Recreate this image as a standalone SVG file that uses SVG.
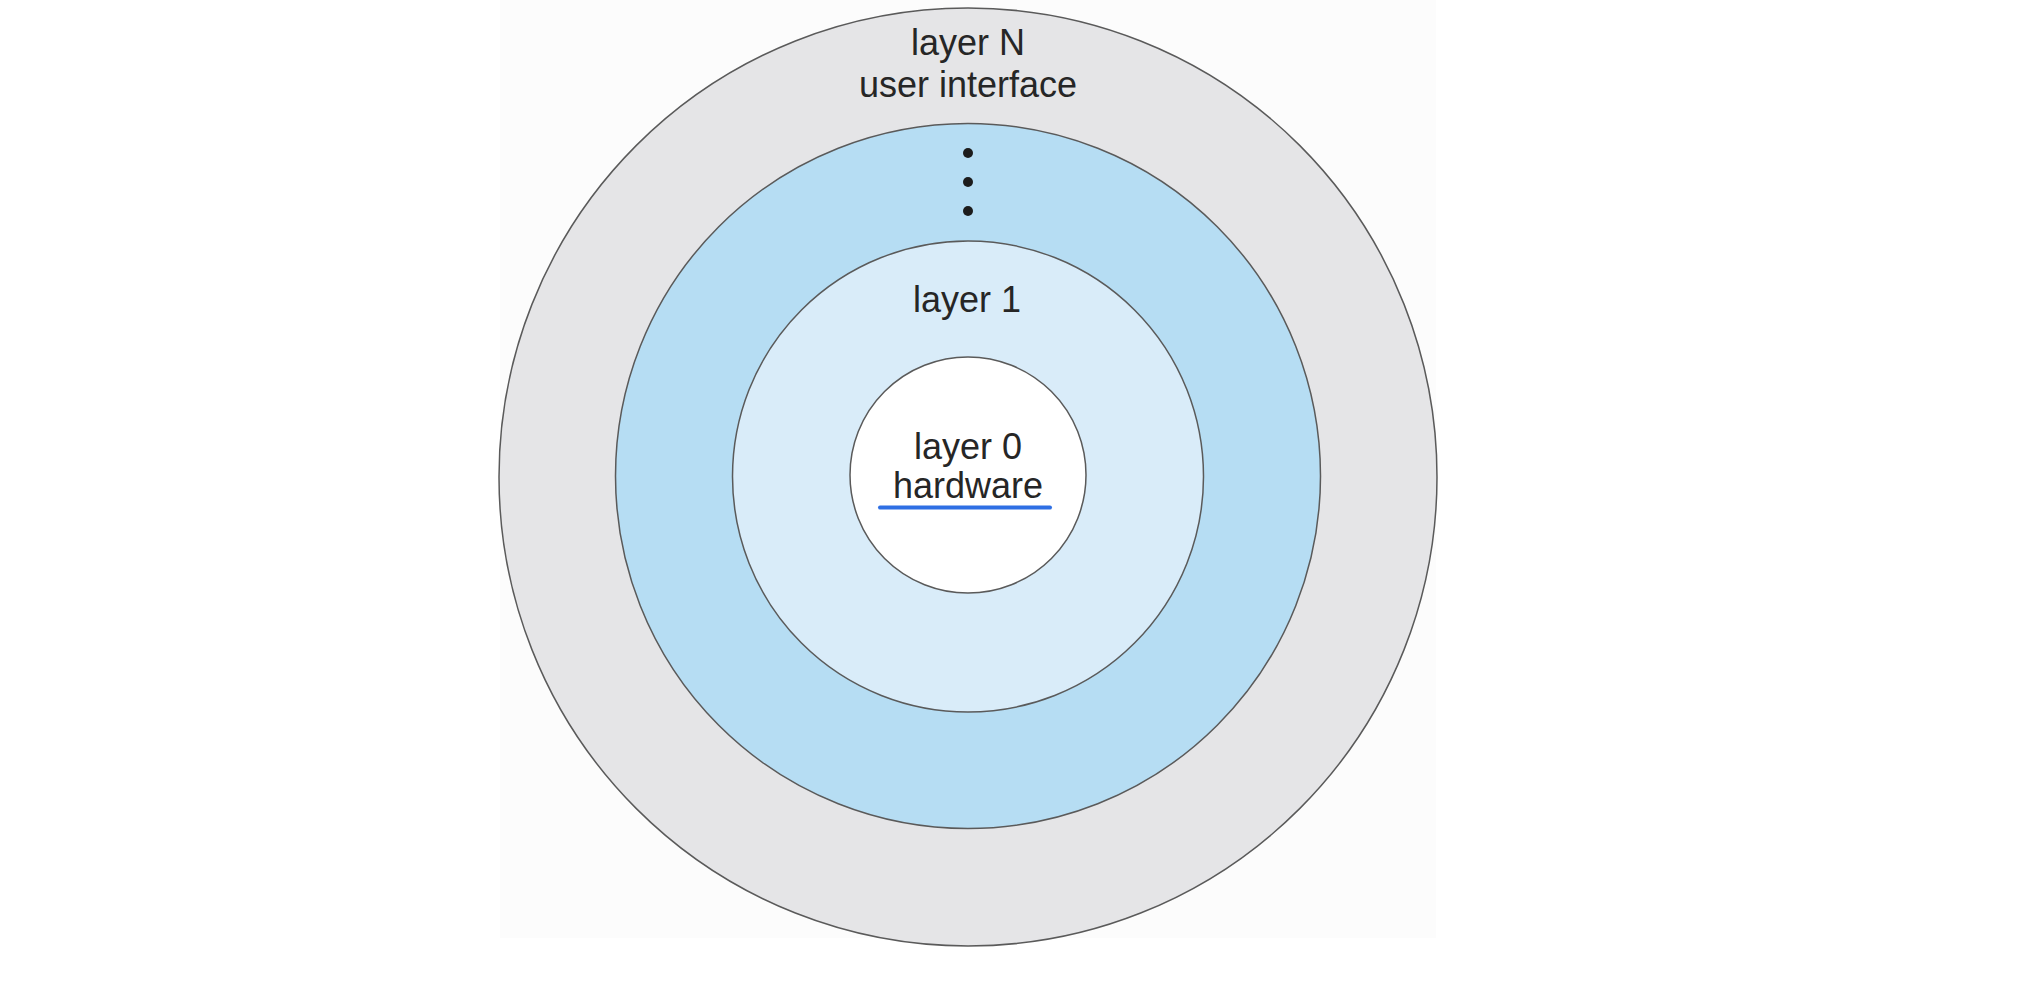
<svg xmlns="http://www.w3.org/2000/svg" width="2033" height="1000" viewBox="0 0 2033 1000">
<style>
.ring{stroke:#5a5a5a;stroke-width:1.5}
.lbl{font-family:"Liberation Sans",Arial,sans-serif;font-size:36px;fill:#262626;text-anchor:middle}
.dot{fill:#1c1c1c}
</style>
<rect x="0" y="0" width="2033" height="1000" fill="#ffffff"/>
<rect x="500" y="0" width="936" height="938" fill="#fcfcfc"/>
<g id="layerN">
<circle class="ring" cx="968" cy="477" r="469" fill="#e5e5e7"/>
<text class="lbl" x="968" y="55">layer N</text>
<text class="lbl" x="968" y="97">user interface</text>
</g>
<g id="layerMid">
<circle class="ring" cx="968" cy="476" r="352.5" fill="#b6ddf3"/>
<circle class="dot" cx="968" cy="153" r="5"/>
<circle class="dot" cx="968" cy="182" r="5"/>
<circle class="dot" cx="968" cy="211" r="5"/>
</g>
<g id="layer1">
<circle class="ring" cx="968" cy="476.5" r="235.5" fill="#d9ecf9"/>
<text class="lbl" x="967" y="312">layer 1</text>
</g>
<g id="layer0">
<circle class="ring" cx="968" cy="475" r="118" fill="#ffffff"/>
<text class="lbl" x="968" y="459">layer 0</text>
<text class="lbl" x="968" y="498">hardware</text>
<line x1="880" y1="507.5" x2="1050" y2="507.5" stroke="#2e6fe4" stroke-width="4" stroke-linecap="round"/>
</g>
<g id="connectors"></g>
</svg>
